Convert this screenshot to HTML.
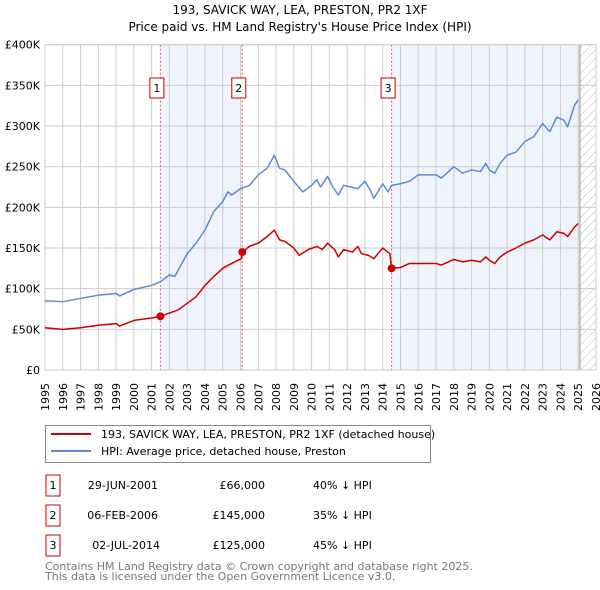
<!DOCTYPE html>
<html><head><meta charset="utf-8"><style>
body{margin:0;width:600px;height:590px;background:#fff;font-family:"DejaVu Sans","Liberation Sans",sans-serif;overflow:hidden}
svg{position:absolute;left:0;top:0}
</style></head><body>
<svg id="c" width="600" height="590" xmlns="http://www.w3.org/2000/svg">
<defs><pattern id="hatch" width="6" height="6" patternUnits="userSpaceOnUse" patternTransform="rotate(45)"><line x1="0" y1="0" x2="0" y2="6" stroke="#bbb" stroke-width="1"/></pattern></defs>
<text x="300" y="14" text-anchor="middle" font-size="12">193, SAVICK WAY, LEA, PRESTON, PR2 1XF</text>
<text x="300" y="31" text-anchor="middle" font-size="12">Price paid vs. HM Land Registry's House Price Index (HPI)</text>
<g id="plot"></g>
<g>
<rect x="45.5" y="425.5" width="385" height="37" fill="#fff" stroke="#888"/>
<line x1="51" y1="434" x2="91" y2="434" stroke="#cc0000" stroke-width="2"/>
<text x="101" y="438" font-size="11">193, SAVICK WAY, LEA, PRESTON, PR2 1XF (detached house)</text>
<line x1="51" y1="451" x2="91" y2="451" stroke="#5b8bd0" stroke-width="2"/>
<text x="101" y="455" font-size="11">HPI: Average price, detached house, Preston</text>
</g>
<g font-size="11">
<rect x="46" y="475" width="14" height="21" fill="#fff" stroke="#cc0000"/><text x="53" y="489" text-anchor="middle">1</text>
<text x="158" y="489" text-anchor="end">29-JUN-2001</text><text x="265" y="489" text-anchor="end">£66,000</text><text x="313" y="489">40% ↓ HPI</text>
<rect x="46" y="505" width="14" height="21" fill="#fff" stroke="#cc0000"/><text x="53" y="519" text-anchor="middle">2</text>
<text x="158" y="519" text-anchor="end">06-FEB-2006</text><text x="265" y="519" text-anchor="end">£145,000</text><text x="313" y="519">35% ↓ HPI</text>
<rect x="46" y="535" width="14" height="21" fill="#fff" stroke="#cc0000"/><text x="53" y="549" text-anchor="middle">3</text>
<text x="160" y="549" text-anchor="end">02-JUL-2014</text><text x="265" y="549" text-anchor="end">£125,000</text><text x="313" y="549">45% ↓ HPI</text>
</g>
<text x="45" y="570" font-size="11" fill="#777">Contains HM Land Registry data © Crown copyright and database right 2025.</text>
<text x="45" y="580" font-size="11" fill="#777">This data is licensed under the Open Government Licence v3.0.</text>
</svg>
<script>
const hpiYears=[1995,1996,1997,1998,1999,1999.2,2000,2001,2001.5,2002,2002.3,2003,2003.5,2004,2004.5,2005,2005.3,2005.5,2006,2006.5,2007,2007.5,2007.9,2008.2,2008.5,2009,2009.5,2010,2010.3,2010.5,2010.9,2011.2,2011.5,2011.8,2012.2,2012.6,2013,2013.3,2013.5,2014,2014.3,2014.5,2015,2015.5,2016,2016.5,2017,2017.3,2018,2018.5,2019,2019.5,2019.8,2020,2020.3,2020.6,2021,2021.5,2022,2022.5,2023,2023.4,2023.8,2024.2,2024.4,2024.8,2025];
const hpiValues=[85,84,88,92,94,91,99,104,108.6,117,115,143,156,172,195,207,219,215,223,227,240,248,264,248,246,232,219,227,234,225,238,225,215,227,225,223,232,221,211,229,219,227,229,232,240,240,240,236,250,242,246,244,254,246,242,254,264,268,281,287,303,293,311,307,299,326,332];
const priceYears=[1995,1996,1997,1998,1999,1999.2,2000,2001,2001.49,2002,2002.5,2003,2003.5,2004,2004.5,2005,2005.5,2006.05,2006.1,2006.5,2007,2007.5,2007.9,2008.2,2008.5,2009,2009.3,2009.8,2010.3,2010.6,2010.9,2011.3,2011.5,2011.8,2012.3,2012.6,2012.8,2013.2,2013.5,2014,2014.4,2014.5,2015,2015.5,2016,2017,2017.3,2018,2018.5,2019,2019.5,2019.8,2020,2020.3,2020.6,2021,2021.5,2022,2022.5,2023,2023.4,2023.8,2024.2,2024.4,2024.8,2025];
const priceValues=[52,50,52,55,57,54,61,64,66,70,74,82,90,104,115,125,131,137,145,152,156,164,172,160,158,150,141,148,152,148,156,148,139,148,145,152,143,141,137,150,143,125,126,131,131,131,129,136,133,135,133,139,135,131,139,145,150,156,160,166,160,170,168,164,176,180];
const saleYears=[2001.49,2006.1,2014.5];
const saleValues=[66,145,125];
const saleLabels=["1","2","3"];
const yTicks=[0,50,100,150,200,250,300,350,400];
const xTicks=[1995,1996,1997,1998,1999,2000,2001,2002,2003,2004,2005,2006,2007,2008,2009,2010,2011,2012,2013,2014,2015,2016,2017,2018,2019,2020,2021,2022,2023,2024,2025,2026];
const X0=45,X1=596,Y0=370,Y1=44.7;
const sx=y=>X0+(y-1995)/31*(X1-X0);
const sy=v=>Y0-v/400*(Y0-Y1);
const NS="http://www.w3.org/2000/svg";
const g=document.getElementById('plot');
function mk(t,a){const e=document.createElementNS(NS,t);for(const k in a)e.setAttribute(k,a[k]);g.appendChild(e);return e;}
// shaded periods
let r=mk('rect',{x:sx(saleYears[0]),y:Y1,width:sx(saleYears[1])-sx(saleYears[0]),height:Y0-Y1,fill:'#eef3fc'});


r=mk('rect',{x:sx(saleYears[2]),y:Y1,width:sx(2025.1)-sx(saleYears[2]),height:Y0-Y1,fill:'#eef3fc'});


r=mk('rect',{x:sx(2025.1),y:Y1,width:X1-sx(2025.1),height:Y0-Y1,fill:'url(#hatch)'});


// grid
xTicks.forEach(t=>{mk('line',{x1:sx(t),x2:sx(t),y1:Y1,y2:Y0,stroke:'#ccc'});
 const tx=mk('text',{x:0,y:0,'font-size':11,'text-anchor':'end',transform:`translate(${sx(t)+4},383) rotate(-90)`});tx.textContent=t;
 
 });
yTicks.forEach(t=>{mk('line',{x1:X0,x2:X1,y1:sy(t),y2:sy(t),stroke:'#ccc'});
 const tx=mk('text',{x:40,y:sy(t)+4,'font-size':11,'text-anchor':'end'});tx.textContent=t===0?'£0':'£'+t+'K';
 
 });
mk('line',{x1:sx(2025.1),x2:sx(2025.1),y1:Y1,y2:Y0,stroke:'#999'});
mk('rect',{x:X0,y:Y1,width:X1-X0,height:Y0-Y1,fill:'none',stroke:'#ccc'});
// sale lines
saleYears.forEach((s,i)=>{const l=mk('line',{x1:sx(s),x2:sx(s),y1:Y1,y2:Y0,stroke:'#e06060','stroke-dasharray':'2,2'});
 
 
 const b=mk('rect',{x:sx(s)-10.5,y:78,width:14,height:20,fill:'#fff',stroke:'#cc0000'});
 
 
 const t=mk('text',{x:sx(s)-3.5,y:92,'font-size':11,'text-anchor':'middle'});t.textContent=saleLabels[i];});
function line(xs,vs,c,name){const p=mk('polyline',{points:xs.map((x,i)=>sx(x)+','+sy(vs[i])).join(' '),fill:'none',stroke:c,'stroke-width':1.5,'stroke-linejoin':'round'});
 
 }
line(hpiYears,hpiValues,'#5b8bd0','hpi-line');
line(priceYears,priceValues,'#cc0000','price-line');
saleYears.forEach((s,i)=>{const c=mk('circle',{cx:sx(s),cy:sy(saleValues[i]),r:4,fill:'#cc0000'});
 
 });
</script>
</body></html>
